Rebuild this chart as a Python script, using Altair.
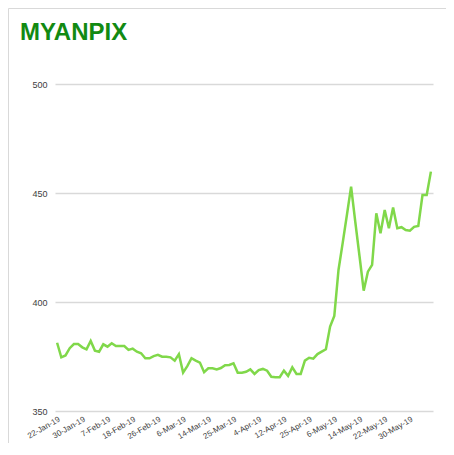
import altair as alt
import pandas as pd

title_text = "MYANPIX"

dates = [
    "22-Jan-19", "23-Jan-19", "24-Jan-19", "25-Jan-19", "28-Jan-19", "29-Jan-19",
    "30-Jan-19", "31-Jan-19", "1-Feb-19", "4-Feb-19", "5-Feb-19", "6-Feb-19",
    "7-Feb-19", "8-Feb-19", "11-Feb-19", "13-Feb-19", "14-Feb-19", "15-Feb-19",
    "18-Feb-19", "19-Feb-19", "20-Feb-19", "21-Feb-19", "22-Feb-19", "25-Feb-19",
    "26-Feb-19", "27-Feb-19", "28-Feb-19", "1-Mar-19", "4-Mar-19", "5-Mar-19",
    "6-Mar-19", "7-Mar-19", "8-Mar-19", "11-Mar-19", "12-Mar-19", "13-Mar-19",
    "14-Mar-19", "15-Mar-19", "18-Mar-19", "19-Mar-19", "21-Mar-19", "22-Mar-19",
    "25-Mar-19", "26-Mar-19", "28-Mar-19", "29-Mar-19", "1-Apr-19", "2-Apr-19",
    "4-Apr-19", "5-Apr-19", "8-Apr-19", "9-Apr-19", "10-Apr-19", "11-Apr-19",
    "12-Apr-19", "18-Apr-19", "19-Apr-19", "22-Apr-19", "23-Apr-19", "24-Apr-19",
    "25-Apr-19", "26-Apr-19", "29-Apr-19", "30-Apr-19", "2-May-19", "3-May-19",
    "6-May-19", "7-May-19", "8-May-19", "9-May-19", "10-May-19", "13-May-19",
    "14-May-19", "15-May-19", "16-May-19", "17-May-19", "20-May-19", "21-May-19",
    "22-May-19", "23-May-19", "24-May-19", "27-May-19", "28-May-19", "29-May-19",
    "30-May-19", "31-May-19", "3-Jun-19", "4-Jun-19", "5-Jun-19", "6-Jun-19",
]

values = [
    381.3, 374.6, 375.5, 378.8, 380.7, 380.7, 379.2, 378.3, 382.1, 377.7,
    377.2, 380.6, 379.5, 381.1, 379.8, 379.8, 379.8, 378.0, 378.6, 377.2,
    376.5, 374.2, 374.2, 375.2, 375.8, 374.9, 374.9, 374.6, 373.1, 376.1,
    367.6, 370.6, 374.2, 373.1, 372.2, 367.8, 369.6, 369.6, 369.1, 369.7,
    371.0, 371.1, 371.9, 367.6, 367.6, 368.0, 369.1, 367.0, 368.8, 369.3,
    368.5, 365.7, 365.5, 365.5, 368.5, 366.1, 370.0, 367.0, 367.0, 373.1,
    374.4, 374.0, 376.1, 377.2, 378.3, 388.7, 393.6, 414.7, 427.1, 439.9,
    452.9, 436.7, 421.1, 405.2, 413.9, 417.0, 440.7, 431.5, 442.2, 433.8,
    443.3, 433.8, 434.3, 433.0, 432.7, 434.5, 434.9, 449.1, 449.1, 459.8,
]

y_ticks = [350, 400, 450, 500]
x_labels = dates[::6]

df = pd.DataFrame({"date": dates, "value": values})

W, H = 378, 327
PAD = {"left": 47, "top": 76, "right": 13, "bottom": 32}

line = alt.Chart(df).mark_line(color="#80d84a", strokeWidth=2.5).encode(
    x=alt.X(
        "date:N",
        sort=None,
        scale=alt.Scale(type="point", padding=0.5),
        axis=alt.Axis(
            title=None,
            values=x_labels,
            labelAngle=-30,
            labelAlign="right",
            labelBaseline="top",
            labelFont="Liberation Sans",
            labelFontSize=8,
            labelColor="#404040",
            labelPadding=4,
            labelOverlap=False,
            domain=False,
            ticks=False,
            grid=False,
        ),
    ),
    y=alt.Y(
        "value:Q",
        scale=alt.Scale(domain=[350, 500], nice=False, zero=False),
        axis=alt.Axis(
            title=None,
            values=y_ticks,
            labelFont="Liberation Sans",
            labelFontSize=9,
            labelColor="#404040",
            labelPadding=8,
            domain=False,
            ticks=False,
            grid=True,
            gridColor="#d9d9d9",
            gridWidth=1.5,
        ),
    ),
)

one = pd.DataFrame({"k": [0]})

frame_left = alt.Chart(one).mark_rule(color="#d9d9d9", strokeWidth=1).encode(
    x=alt.value(-46.5), y=alt.value(-75.5), y2=alt.value(H + PAD["bottom"])
)
frame_top = alt.Chart(one).mark_rule(color="#d9d9d9", strokeWidth=1).encode(
    x=alt.value(-46.5), x2=alt.value(W + PAD["right"]), y=alt.value(-75.5)
)

title = alt.Chart(one).mark_text(
    text=title_text,
    font="Liberation Sans",
    fontSize=24,
    fontWeight="bold",
    color="#128a12",
    align="left",
    baseline="alphabetic",
).encode(x=alt.value(-35), y=alt.value(-44))

chart = (
    alt.layer(frame_left, frame_top, line, title)
    .properties(
        width=W,
        height=H,
        padding=PAD,
        autosize=alt.AutoSizeParams(type="none"),
        background="white",
    )
    .configure_view(stroke=None)
)

chart.save("out.html", embed_options={"renderer": "svg", "actions": False})
